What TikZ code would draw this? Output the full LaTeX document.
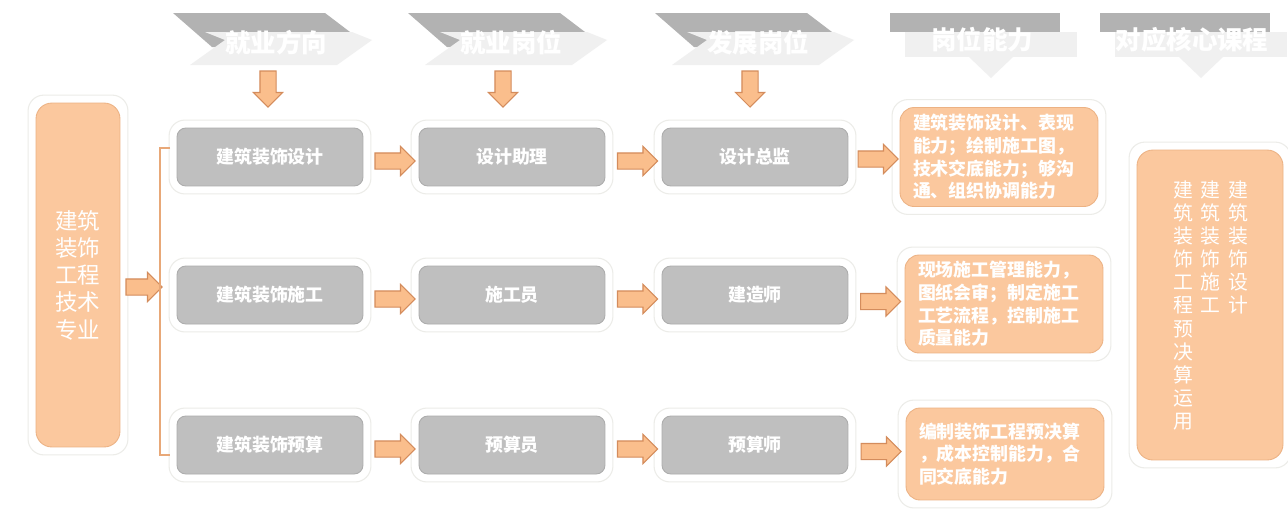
\documentclass[tikz,border=0pt]{standalone}
\usepackage{fontspec}
\setmainfont{Noto Sans CJK SC}
\usetikzlibrary{positioning,calc,fit,backgrounds}
\usetikzlibrary{shapes.arrows}

\definecolor{boxgray}{RGB}{191,191,191}
\definecolor{boxgrayline}{RGB}{172,172,172}
\definecolor{headdark}{RGB}{178,178,178}
\definecolor{headlight}{RGB}{240,240,240}
\definecolor{peach}{RGB}{251,200,158}
\definecolor{peachline}{RGB}{236,178,132}
\definecolor{arrowfill}{RGB}{250,190,140}
\definecolor{arrowline}{RGB}{212,140,92}
\definecolor{bracketline}{RGB}{232,168,120}
\definecolor{plateline}{RGB}{236,236,232}

\tikzset{
        % Header texts
        headtext/.style={text=white, inner sep=0pt, font=\fontsize{14.5pt}{16pt}\selectfont\bfseries},
        % Gray job boxes
        jobbox/.style={rectangle, rounded corners=5pt, fill=boxgray, draw=boxgrayline, line width=0.5pt,
                minimum width=3.72cm, minimum height=1.16cm, text=white, font=\fontsize{10.2pt}{12pt}\selectfont\bfseries},
        % Peach ability boxes
        abilbox/.style={rectangle, rounded corners=8pt, fill=peach, draw=peachline, line width=0.5pt,
                text=white, align=left, text width=3.44cm, inner xsep=0.26cm, minimum width=3.96cm,
                font=\fontsize{10.2pt}{12.9pt}\selectfont\bfseries},
        % Big peach boxes
        bigbox/.style={rectangle, rounded corners=9pt, fill=peach, draw=peachline, line width=0.5pt},
        % Text of big boxes
        bigtext/.style={text=white, align=center, inner sep=0pt},
        % Block arrows
        harrow/.style={single arrow, fill=arrowfill, draw=arrowline, line width=0.6pt, inner xsep=0pt,
                inner ysep=0.15cm, single arrow head extend=0.13cm, minimum height=0.8cm},
        darrow/.style={harrow, rotate=-90, minimum height=0.72cm},
        % Bracket
        bracket/.style={draw=bracketline, line width=0.9pt},
        % Faint plates behind boxes
        plate/.style={rectangle, rounded corners=9pt, fill=white, draw=plateline, line width=0.6pt, inner sep=0.15cm}
}

\begin{document}
\begin{tikzpicture}[x=0.02cm, y=-0.02cm]
    \useasboundingbox (0,0) rectangle (1288,521);

    % chevron headers
    \foreach \dx/\txt [count=\i] in {0/就业方向, 235/就业岗位, 482/发展岗位} {
        \fill[headdark] (173+\dx,13) -- (325+\dx,13) -- (350+\dx,32) -- (350+\dx,47) -- (212+\dx,47) -- cycle;
        \fill[headlight] (205+\dx,32) -- (352+\dx,32) -- (372+\dx,40) -- (337+\dx,65) -- (190+\dx,65) -- (225+\dx,40) -- cycle;
        \node[headtext] (head\i) at (276+\dx,43) {\txt};
        \node[darrow] (down\i) at (268+\dx,85) {};
    }
    % flat headers
    \foreach \dx/\txt [count=\i from 4] in {0/岗位能力, 210/对应核心课程} {
        \fill[headdark] (890+\dx,13) rectangle (1060+\dx,32);
        \fill[headlight] (905+\dx,32) rectangle (1077+\dx,57);
        \fill[headlight] (969+\dx,57) -- (1013+\dx,57) -- (991+\dx,78) -- cycle;
        \node[headtext] (head\i) at (982+\dx,40) {\txt};
    }

    % major
    \node[bigbox, minimum width=1.68cm, minimum height=6.88cm] (major) at (78,275) {};
    \node[bigtext, font=\fontsize{12.8pt}{15.5pt}\selectfont] (majortext) at (major) {建筑\\装饰\\工程\\技术\\专业};
    \node[harrow, minimum height=0.72cm] (tobr) at (140,287) {};

    % bracket
    \coordinate (brtop) at (170,148);
    \coordinate (brbot) at (170,455);
    \draw[bracket] (brtop) -- ++(-10,0) |- (brbot);

    % rows of jobs
    \foreach \y/\a/\b/\c [count=\r] in {157/建筑装饰设计/设计助理/设计总监,
            295/建筑装饰施工/施工员/建造师, 445/建筑装饰预算/预算员/预算师} {
        \node[jobbox] (dir\r) at (270,\y) {\a};
        \node[jobbox] (job\r) at (512,\y) {\b};
        \node[jobbox] (dev\r) at (755,\y) {\c};
    }

    % abilities
    \node[abilbox, minimum height=1.98cm] (abil1) at (999,157) {建筑装饰设计、表现\\能力；绘制施工图，\\技术交底能力；够沟\\通、组织协调能力};
    \node[abilbox, minimum height=1.96cm] (abil2) at (1004,304) {现场施工管理能力，\\图纸会审；制定施工\\工艺流程，控制施工\\质量能力};
    \node[abilbox, minimum height=1.84cm] (abil3) at (1005,454) {编制装饰工程预决算\\，成本控制能力，合\\同交底能力};

    % arrows between boxes
    \foreach \r in {1,2,3} {
        \node[harrow] (ab\r) at ($(dir\r.east)!.5!(job\r.west)+(0,4)$) {};
        \node[harrow] (bc\r) at ($(job\r.east)!.5!(dev\r.west)+(0,4)$) {};
        \node[harrow] (cd\r) at ($(dev\r.east)!.5!(abil\r.west)+(0,2)$) {};
    }

    % courses
    \node[bigbox, minimum width=2.92cm, minimum height=6.2cm] (course) at (1210,305) {};
    \node[bigtext, anchor=north, font=\fontsize{11.3pt}{13.2pt}\selectfont] (course1) at (1183,180) {建\\筑\\装\\饰\\工\\程\\预\\决\\算\\运\\用};
    \node[bigtext, anchor=north, font=\fontsize{11.3pt}{13.2pt}\selectfont] (course2) at (1210,180) {建\\筑\\装\\饰\\施\\工};
    \node[bigtext, anchor=north, font=\fontsize{11.3pt}{13.2pt}\selectfont] (course3) at (1238,180) {建\\筑\\装\\饰\\设\\计};

    % plates
    \begin{scope}[on background layer]
        \fill[white] (0,0) rectangle (1288,521);
        \foreach \n in {major,dir1,job1,dev1,dir2,job2,dev2,dir3,job3,dev3,abil1,abil2,abil3,course} {
            \node[plate, fit=(\n)] (plate\n) {};
        }
    \end{scope}
\end{tikzpicture}
\end{document}
